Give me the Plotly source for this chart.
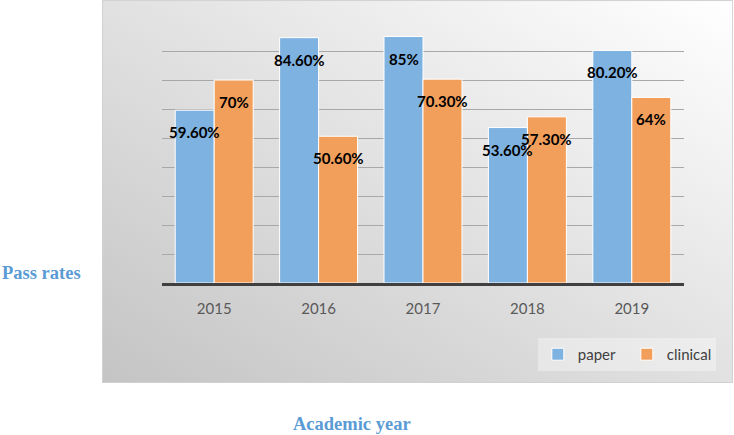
import base64
import plotly.graph_objects as go

# data
years = ["2015", "2016", "2017", "2018", "2019"]
paper = [59.6, 84.6, 85.0, 53.6, 80.2]
clinical = [70.0, 50.6, 70.3, 57.3, 64.0]
paper_labels = ["59.60%", "84.60%", "85%", "53.60%", "80.20%"]
clinical_labels = ["70%", "50.60%", "70.30%", "57.30%", "64%"]

BLUE = "#7EB2E0"
ORANGE = "#F29F5C"
TITLE_BLUE = "#5B9BD5"

fig = go.Figure()
fig.add_trace(go.Bar(x=years, y=paper, name="paper", marker_color=BLUE,
                     marker_line_color="white", marker_line_width=1))
fig.add_trace(go.Bar(x=years, y=clinical, name="clinical", marker_color=ORANGE,
                     marker_line_color="white", marker_line_width=1))

# data labels sit a bit below the top of each bar, like the Excel original
# (annotations on a category axis take the category index, "2015" would be read as a number)
label_font = dict(family="Lato", size=15, color="black", weight="bold")
annotations = []
for i, (v, t) in enumerate(zip(paper, paper_labels)):
    annotations.append(dict(x=i, y=v, xref="x", yref="y", text=t, showarrow=False,
                            xshift=-19.5, yshift=-22, font=label_font))
for i, (v, t) in enumerate(zip(clinical, clinical_labels)):
    annotations.append(dict(x=i, y=v, xref="x", yref="y", text=t, showarrow=False,
                            xshift=19.5, yshift=-22, font=label_font))

title_font = dict(family="Liberation Serif", size=18.5, color=TITLE_BLUE, weight="bold")
annotations.append(dict(text="Pass rates", xref="paper", yref="paper", x=-0.31, y=0.038,
                        xanchor="left", yanchor="middle", showarrow=False, font=title_font))
annotations.append(dict(text="Academic year", xref="paper", yref="paper", x=0.364, y=-0.54,
                        xanchor="center", yanchor="middle", showarrow=False, font=title_font))

# grey gradient panel behind the chart (svg image)
svg = """<svg xmlns='http://www.w3.org/2000/svg' width='631' height='383' viewBox='0 0 631 383' preserveAspectRatio='none'>
<defs><linearGradient id='g' x1='1' y1='0' x2='0' y2='1'>
<stop offset='0' stop-color='#ffffff'/><stop offset='0.45' stop-color='#e4e4e4'/><stop offset='1' stop-color='#c4c4c4'/>
</linearGradient></defs>
<rect x='0.5' y='0.5' width='630' height='382' fill='url(#g)' stroke='#d0d0d0' stroke-width='1'/>
</svg>"""
src = "data:image/svg+xml;base64," + base64.b64encode(svg.encode()).decode()

fig.update_layout(
    width=734, height=435,
    margin=dict(l=162, r=50, t=22, b=152),
    paper_bgcolor="white", plot_bgcolor="rgba(0,0,0,0)",
    barmode="group", bargap=0.253, bargroupgap=0,
    font=dict(family="Lato", size=15, color="#595959"),
    annotations=annotations,
    images=[dict(source=src, xref="paper", yref="paper", x=-0.115, y=1.084,
                 sizex=1.209, sizey=1.467, xanchor="left", yanchor="top",
                 sizing="stretch", layer="below")],
    legend=dict(orientation="h", x=1.061, y=-0.337, xanchor="right", yanchor="bottom",
                bgcolor="rgba(255,255,255,0.35)", font=dict(size=15, color="#404040"),
                itemwidth=30, entrywidth=44, traceorder="normal"),
)
fig.update_xaxes(type="category", showline=True, linecolor="#404040", linewidth=3,
                 showgrid=False, ticks="", ticklabelstandoff=10,
                 tickfont=dict(size=15, color="#595959"))
fig.update_yaxes(range=[0, 90], dtick=10, showticklabels=False, showgrid=True,
                 gridcolor="#a8a8a8", gridwidth=1, zeroline=False)

# drop the browser's default body margin so the figure sits at the page corner
fig.write_html("out.html", config={"displayModeBar": False},
               post_script="document.body.style.margin='0';")
